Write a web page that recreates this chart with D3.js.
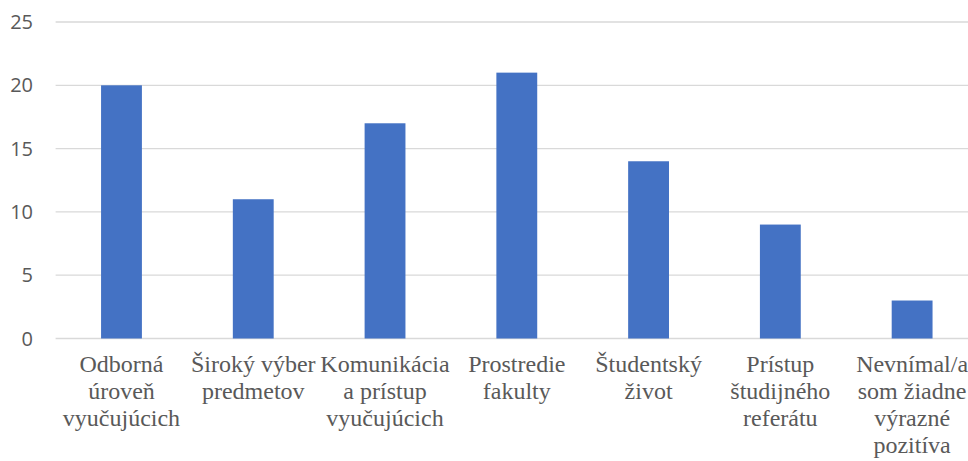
<!DOCTYPE html>
<html>
<head>
  <meta charset="utf-8">
  <style>
  body {
    margin: 0;
    background: #fff;
  }
  #chart {
    position: relative;
    width: 968px;
    height: 461px;
  }
  .cat {
    position: absolute;
    top: 351px;
    width: 140px;
    text-align: center;
    font-family: "Liberation Serif", "Times New Roman", serif;
    font-size: 24px;
    line-height: 27px;
    color: #595959;
    white-space: nowrap;
  }
  </style>
</head>
<body>
  <div id="chart"></div>

  <script src="https://d3js.org/d3.v7.min.js"></script>
  <script>
  var categories = [
    ["Odborná", "úroveň", "vyučujúcich"],
    ["Široký výber", "predmetov"],
    ["Komunikácia", "a prístup", "vyučujúcich"],
    ["Prostredie", "fakulty"],
    ["Študentský", "život"],
    ["Prístup", "študijného", "referátu"],
    ["Nevnímal/a", "som žiadne", "výrazné", "pozitíva"]
  ]
  var values = [20, 11, 17, 21, 14, 9, 3]
  var yTicks = [0, 5, 10, 15, 20, 25]

  var width = 968, height = 461
  var plot = {left: 55.6, right: 978, top: 22, bottom: 338.5}

  var svg = d3.select("#chart").append("svg")
    .attr("width", width)
    .attr("height", height)
    .style("position", "absolute")
    .style("left", 0)
    .style("top", 0)

  var x = d3.scaleBand()
    .domain(d3.range(categories.length))
    .range([plot.left, plot.right])
    .paddingInner(0.69)
    .paddingOuter(0.345)

  var y = d3.scaleLinear()
    .domain([0, 25])
    .range([plot.bottom, plot.top])

  // gridlines
  svg.append("g")
    .selectAll("line")
    .data(yTicks)
    .enter().append("line")
      .attr("x1", plot.left)
      .attr("x2", width)
      .attr("y1", function(d) { return y(d) })
      .attr("y2", function(d) { return y(d) })
      .attr("stroke", "#d9d9d9")
      .attr("stroke-width", 1.3)

  // y labels
  svg.append("g")
    .selectAll("text")
    .data(yTicks)
    .enter().append("text")
      .attr("x", 33)
      .attr("y", function(d) { return y(d) + 7 })
      .attr("text-anchor", "end")
      .attr("font-family", "Open Sans")
      .attr("font-size", 20)
      .attr("fill", "#595959")
      .text(function(d) { return d })

  // bars
  svg.append("g")
    .selectAll("rect")
    .data(values)
    .enter().append("rect")
      .attr("x", function(d, i) { return x(i) })
      .attr("width", x.bandwidth())
      .attr("y", function(d) { return y(d) })
      .attr("height", function(d) { return y(0) - y(d) })
      .attr("fill", "#4472c4")

  // category labels as html, centred under each bar
  d3.select("#chart").selectAll("div.cat")
    .data(categories)
    .enter().append("div")
      .attr("class", "cat")
      .style("left", function(d, i) { return (x(i) + x.bandwidth() / 2 - 70) + "px" })
      .html(function(d) { return d.join("<br>") })
  </script>
</body>
</html>
